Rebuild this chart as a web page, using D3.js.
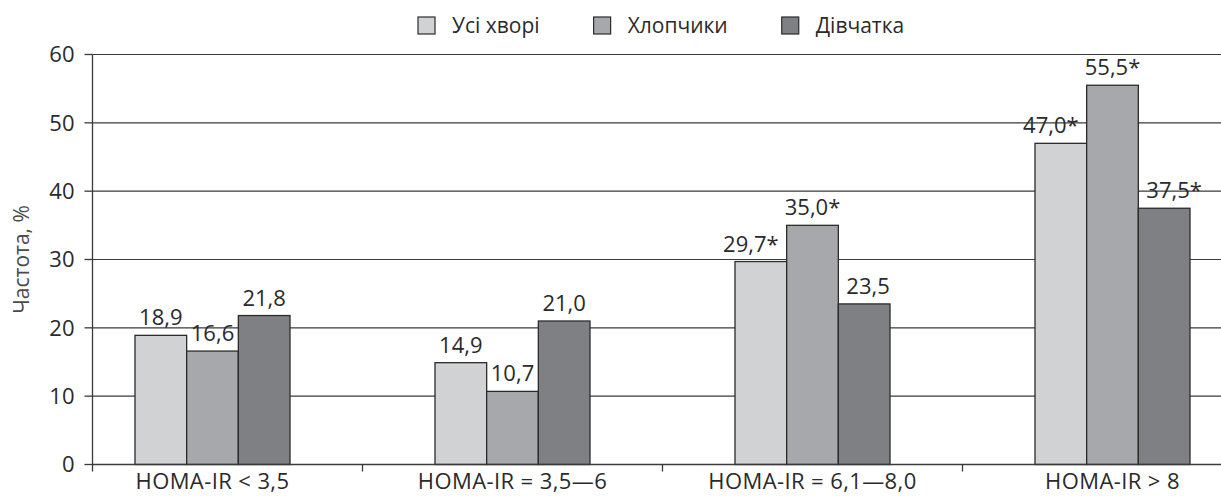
<!DOCTYPE html>
<html>
<head>
<meta charset="utf-8">
<script src="https://cdn.jsdelivr.net/npm/d3@7"></script>
<style>
  body { margin: 0; background: #fff; }
  text { font-family: "Open Sans", sans-serif; }
</style>
</head>
<body>
<svg id="chart"></svg>
<script>
const width = 1221
const height = 496

// data
const categories = ["HOMA-IR < 3,5", "HOMA-IR = 3,5—6", "HOMA-IR = 6,1—8,0", "HOMA-IR > 8"]
const seriesNames = ["Усі хворі", "Хлопчики", "Дівчатка"]
const allPatients = [18.9, 14.9, 29.7, 47.0]
const boys = [16.6, 10.7, 35.0, 55.5]
const girls = [21.8, 21.0, 23.5, 37.5]
const allMarks = ["", "", "*", "*"]
const boysMarks = ["", "", "*", "*"]
const girlsMarks = ["", "", "", "*"]
const yTicks = [0, 10, 20, 30, 40, 50, 60]

const colors = ["#d1d2d4", "#a7a8ab", "#7f8084"]
const values = [allPatients, boys, girls]
const marks = [allMarks, boysMarks, girlsMarks]

const axisX = 92.5
const plotRight = width
const fmt = v => v.toFixed(1).replace(".", ",")

const svg = d3.select("#chart")
  .attr("width", width)
  .attr("height", height)

const y = d3.scaleLinear()
  .domain([0, 60])
  .range([464.5, 54.5])

// category bands: step of 300px, the last band runs past the picture edge
const x0 = d3.scaleBand()
  .domain(categories)
  .range([62.5, 1262.5])

const groupW = 155
const x1 = d3.scaleBand()
  .domain(seriesNames)
  .range([(x0.bandwidth() - groupW) / 2, (x0.bandwidth() + groupW) / 2])

// gridlines
svg.append("g")
  .attr("stroke", "#3a3a3a")
  .attr("stroke-width", 1.2)
  .selectAll("line")
  .data(yTicks.filter(d => d > 0))
  .join("line")
  .attr("x1", axisX)
  .attr("x2", plotRight)
  .attr("y1", d => y(d))
  .attr("y2", d => y(d))

// bars
const bars = []
categories.forEach((c, ci) => {
  seriesNames.forEach((s, si) => {
    bars.push({ c, s, ci, si, v: values[si][ci], m: marks[si][ci] })
  })
})

svg.append("g")
  .attr("stroke", "#2b2b2b")
  .attr("stroke-width", 1.3)
  .selectAll("rect")
  .data(bars)
  .join("rect")
  .attr("x", d => x0(d.c) + x1(d.s))
  .attr("y", d => y(d.v))
  .attr("width", x1.bandwidth())
  .attr("height", d => y(0) - y(d.v))
  .attr("fill", d => colors[d.si])

// axes lines
const axes = svg.append("g").attr("stroke", "#3a3a3a").attr("stroke-width", 1.3)
axes.append("line")
  .attr("x1", axisX).attr("x2", axisX)
  .attr("y1", y(60)).attr("y2", y(0) + 7)
axes.append("line")
  .attr("x1", axisX).attr("x2", plotRight)
  .attr("y1", y(0)).attr("y2", y(0))
axes.selectAll(".ytick")
  .data(yTicks)
  .join("line")
  .attr("x1", axisX - 8).attr("x2", axisX)
  .attr("y1", d => y(d)).attr("y2", d => y(d))
axes.selectAll(".xtick")
  .data(categories.slice(1))
  .join("line")
  .attr("x1", d => x0(d)).attr("x2", d => x0(d))
  .attr("y1", y(0)).attr("y2", y(0) + 7)

// y tick labels
svg.append("g")
  .selectAll("text")
  .data(yTicks)
  .join("text")
  .attr("x", axisX - 18)
  .attr("y", d => y(d))
  .attr("dy", "0.36em")
  .attr("text-anchor", "end")
  .attr("font-size", 22)
  .attr("fill", "#2a2a2a")
  .text(d => d)

// x category labels
svg.append("g")
  .selectAll("text")
  .data(categories)
  .join("text")
  .attr("x", d => x0(d) + x0.bandwidth() / 2)
  .attr("y", 489)
  .attr("text-anchor", "middle")
  .attr("font-size", 22)
  .attr("letter-spacing", 0.4)
  .attr("fill", "#2a2a2a")
  .text(d => d)

// y title
svg.append("text")
  .attr("transform", `translate(29,${(y(0) + y(60)) / 2}) rotate(-90)`)
  .attr("text-anchor", "middle")
  .attr("font-size", 21)
  .attr("fill", "#4a4a4a")
  .text("Частота, %")

// value labels, nudged away from taller neighbouring bars
const labels = svg.append("g")
  .selectAll("text")
  .data(bars)
  .join("text")
  .attr("y", d => y(d.v) - 10)
  .attr("font-size", 22)
  .attr("fill", "#2a2a2a")
  .text(d => fmt(d.v) + d.m)

labels.each(function (d) {
  const w = this.getComputedTextLength()
  const left = x0(d.c) + x1(d.s)
  const right = left + x1.bandwidth()
  let start = (left + right) / 2 - w / 2
  const gap = 8
  const prev = d.si > 0 ? values[d.si - 1][d.ci] : null
  const next = d.si < 2 ? values[d.si + 1][d.ci] : null
  const prevHit = prev !== null && y(prev) < y(d.v) - 10
  const nextHit = next !== null && y(next) < y(d.v) - 10
  if (nextHit && !prevHit) start = Math.min(start, right - gap - w)
  if (prevHit && !nextHit) start = Math.max(start, left + gap)
  d3.select(this).attr("x", start)
})

// legend
const legend = svg.append("g")
let lx = 418
seriesNames.forEach((s, i) => {
  legend.append("rect")
    .attr("x", lx).attr("y", 17)
    .attr("width", 17).attr("height", 17)
    .attr("fill", colors[i])
    .attr("stroke", "#2b2b2b")
    .attr("stroke-width", 1.2)
  const t = legend.append("text")
    .attr("x", lx + 34).attr("y", 33)
    .attr("font-size", 21)
    .attr("fill", "#2a2a2a")
    .text(s)
  lx += 34 + t.node().getComputedTextLength() + 54
})
</script>
</body>
</html>
